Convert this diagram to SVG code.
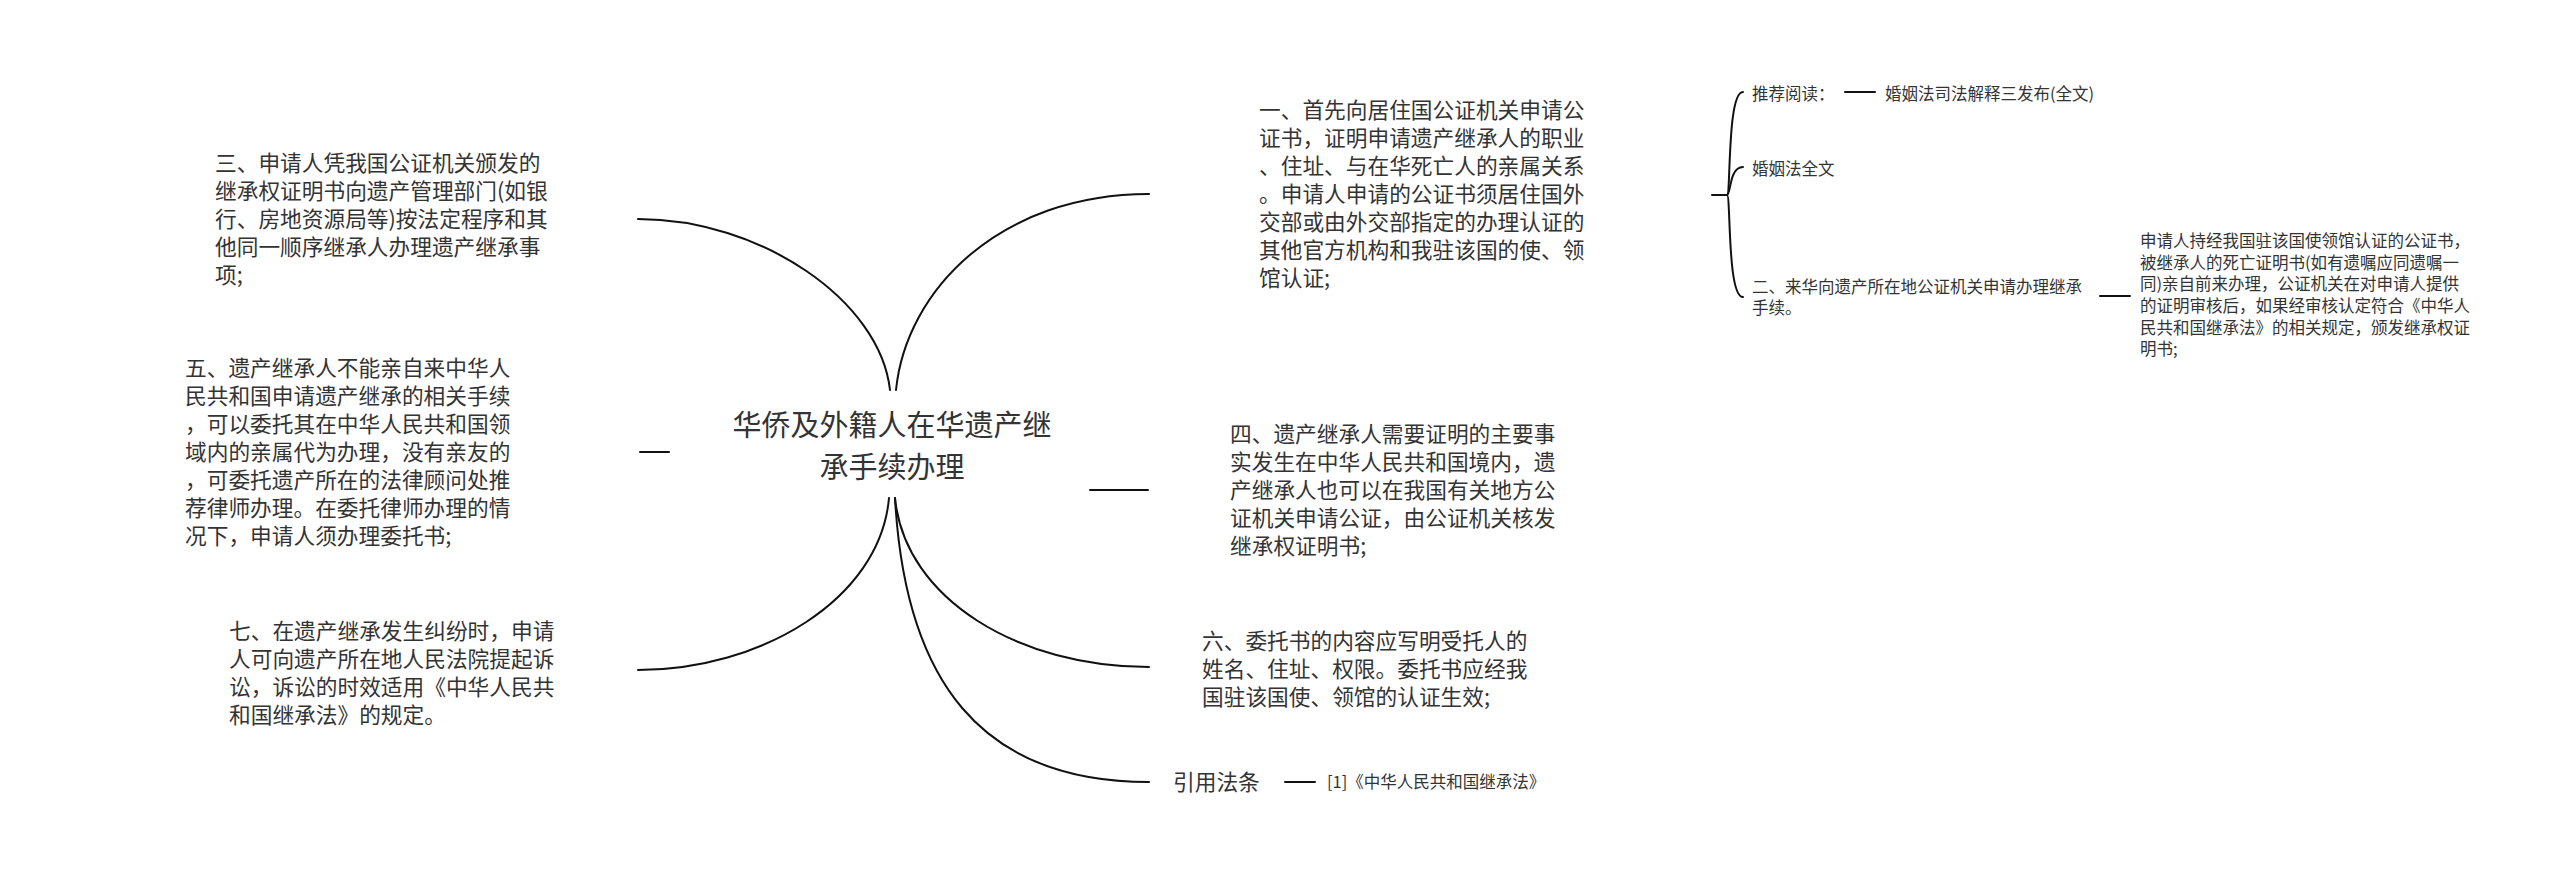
<svg xmlns="http://www.w3.org/2000/svg" width="2560" height="880" viewBox="0 0 2560 880">
<style>
.t{font-family:"Noto Sans CJK SC","Liberation Sans",sans-serif;fill:#333;}
.m{font-size:21.7px;}
.s{font-size:16.5px;}
.c{font-size:29px;text-anchor:middle;}
.ln{fill:none;stroke:#111;stroke-width:2;stroke-linecap:round;}
</style>
<rect width="2560" height="880" fill="#fff"/>
<g id="connectors">
<path class="ln" d="M890,390 C880,300 760,219 638,219"/>
<path class="ln" d="M896,390 C906,290 1000,194 1149,194"/>
<path class="ln" d="M889,498 C880,600 760,670 638,670"/>
<path class="ln" d="M895,498 C905,600 1020,667 1149,667"/>
<path class="ln" d="M895,498 C905,680 980,782 1149,782"/>
<path class="ln" d="M640,452 L669,452"/>
<path class="ln" d="M1090,490 L1148,490"/>
<path class="ln" d="M1285,782 L1315,782"/>
<path class="ln" d="M1712,195 L1727,195"/>
<path class="ln" d="M1727,195 C1731,195 1727,92 1743,92"/>
<path class="ln" d="M1727,195 C1731,195 1729,167 1743,167"/>
<path class="ln" d="M1727,195 C1731,195 1727,297 1743,297"/>
<path class="ln" d="M1845,92 L1875,92"/>
<path class="ln" d="M2100,296 L2130,296"/>
</g>
<g id="center">
<text class="t c" x="892" y="436">华侨及外籍人在华遗产继</text>
<text class="t c" x="892" y="478">承手续办理</text>
</g>
<g id="node-3">
<text class="t m" x="215" y="171">三、申请人凭我国公证机关颁发的</text>
<text class="t m" x="215" y="199">继承权证明书向遗产管理部门(如银</text>
<text class="t m" x="215" y="227">行、房地资源局等)按法定程序和其</text>
<text class="t m" x="215" y="255">他同一顺序继承人办理遗产继承事</text>
<text class="t m" x="215" y="283">项;</text>
</g>
<g id="node-5">
<text class="t m" x="185" y="376">五、遗产继承人不能亲自来中华人</text>
<text class="t m" x="185" y="404">民共和国申请遗产继承的相关手续</text>
<text class="t m" x="185" y="432">，可以委托其在中华人民共和国领</text>
<text class="t m" x="185" y="460">域内的亲属代为办理，没有亲友的</text>
<text class="t m" x="185" y="488">，可委托遗产所在的法律顾问处推</text>
<text class="t m" x="185" y="516">荐律师办理。在委托律师办理的情</text>
<text class="t m" x="185" y="544">况下，申请人须办理委托书;</text>
</g>
<g id="node-7">
<text class="t m" x="229" y="639">七、在遗产继承发生纠纷时，申请</text>
<text class="t m" x="229" y="667">人可向遗产所在地人民法院提起诉</text>
<text class="t m" x="229" y="695">讼，诉讼的时效适用《中华人民共</text>
<text class="t m" x="229" y="723">和国继承法》的规定。</text>
</g>
<g id="node-1">
<text class="t m" x="1259" y="118">一、首先向居住国公证机关申请公</text>
<text class="t m" x="1259" y="146">证书，证明申请遗产继承人的职业</text>
<text class="t m" x="1259" y="174">、住址、与在华死亡人的亲属关系</text>
<text class="t m" x="1259" y="202">。申请人申请的公证书须居住国外</text>
<text class="t m" x="1259" y="230">交部或由外交部指定的办理认证的</text>
<text class="t m" x="1259" y="258">其他官方机构和我驻该国的使、领</text>
<text class="t m" x="1259" y="286">馆认证;</text>
</g>
<g id="node-4">
<text class="t m" x="1230" y="442">四、遗产继承人需要证明的主要事</text>
<text class="t m" x="1230" y="470">实发生在中华人民共和国境内，遗</text>
<text class="t m" x="1230" y="498">产继承人也可以在我国有关地方公</text>
<text class="t m" x="1230" y="526">证机关申请公证，由公证机关核发</text>
<text class="t m" x="1230" y="554">继承权证明书;</text>
</g>
<g id="node-6">
<text class="t m" x="1202" y="649">六、委托书的内容应写明受托人的</text>
<text class="t m" x="1202" y="677">姓名、住址、权限。委托书应经我</text>
<text class="t m" x="1202" y="705">国驻该国使、领馆的认证生效;</text>
</g>
<g id="node-ref">
<text class="t m" x="1173" y="790">引用法条</text>
</g>
<g id="node-ref-1">
<text class="t s" x="1327" y="788">[1]《中华人民共和国继承法》</text>
</g>
<g id="node-recommend">
<text class="t s" x="1752" y="100">推荐阅读：</text>
</g>
<g id="node-recommend-1">
<text class="t s" x="1885" y="100">婚姻法司法解释三发布(全文)</text>
</g>
<g id="node-marriage">
<text class="t s" x="1752" y="175">婚姻法全文</text>
</g>
<g id="node-2">
<text class="t s" x="1752" y="293">二、来华向遗产所在地公证机关申请办理继承</text>
<text class="t s" x="1752" y="314">手续。</text>
</g>
<g id="node-2-1">
<text class="t s" x="2140" y="247">申请人持经我国驻该国使领馆认证的公证书，</text>
<text class="t s" x="2140" y="269">被继承人的死亡证明书(如有遗嘱应同遗嘱一</text>
<text class="t s" x="2140" y="290">同)亲自前来办理，公证机关在对申请人提供</text>
<text class="t s" x="2140" y="312">的证明审核后，如果经审核认定符合《中华人</text>
<text class="t s" x="2140" y="334">民共和国继承法》的相关规定，颁发继承权证</text>
<text class="t s" x="2140" y="355">明书;</text>
</g>
</svg>
